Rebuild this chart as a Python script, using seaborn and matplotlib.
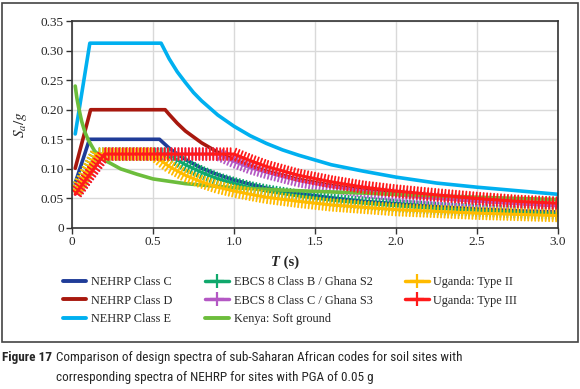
import matplotlib
matplotlib.use("Agg")
import matplotlib.pyplot as plt
import matplotlib.patheffects as pe
from matplotlib.lines import Line2D
from matplotlib.patches import Rectangle
import pandas as pd
import seaborn as sns

# period (s) and Sa/g
t_nehrp_c = [0.02, 0.108, 0.54, 0.6, 0.65, 0.7, 0.8, 0.9, 1.0, 1.1, 1.2, 1.4, 1.6, 1.8, 2.0, 2.25, 2.5, 2.75, 3.0]
sa_nehrp_c = [0.076, 0.15, 0.15, 0.135, 0.125, 0.116, 0.101, 0.090, 0.081, 0.074, 0.0675, 0.058, 0.051, 0.045, 0.041, 0.036, 0.032, 0.029, 0.027]

t_nehrp_d = [0.02, 0.115, 0.575, 0.6, 0.65, 0.7, 0.8, 0.9, 1.0, 1.1, 1.2, 1.4, 1.6, 1.8, 2.0, 2.25, 2.5, 2.75, 3.0]
sa_nehrp_d = [0.101, 0.20, 0.20, 0.192, 0.177, 0.164, 0.144, 0.128, 0.115, 0.105, 0.096, 0.082, 0.072, 0.064, 0.058, 0.051, 0.046, 0.042, 0.038]

t_nehrp_e = [0.02, 0.11, 0.55, 0.6, 0.65, 0.7, 0.75, 0.8, 0.9, 1.0, 1.1, 1.2, 1.3, 1.4, 1.6, 1.8, 2.0, 2.25, 2.5, 2.75, 3.0]
sa_nehrp_e = [0.159, 0.3125, 0.3125, 0.286, 0.264, 0.246, 0.229, 0.215, 0.191, 0.172, 0.156, 0.143, 0.132, 0.123, 0.107, 0.096, 0.086, 0.076, 0.069, 0.063, 0.057]

t_ebcs_b = [0.02, 0.15, 0.6, 0.65, 0.7, 0.8, 0.9, 1.0, 1.1, 1.2, 1.4, 1.6, 1.8, 2.0, 2.25, 2.5, 2.75, 3.0]
sa_ebcs_b = [0.06, 0.125, 0.125, 0.115, 0.107, 0.094, 0.083, 0.075, 0.068, 0.0625, 0.054, 0.047, 0.042, 0.0375, 0.033, 0.030, 0.027, 0.025]

t_ebcs_c = [0.02, 0.2, 0.9, 1.0, 1.1, 1.2, 1.4, 1.6, 1.8, 2.0, 2.25, 2.5, 2.75, 3.0]
sa_ebcs_c = [0.057, 0.125, 0.125, 0.1125, 0.102, 0.094, 0.080, 0.070, 0.0625, 0.056, 0.050, 0.045, 0.041, 0.0375]

t_kenya = [0.02, 0.03, 0.04, 0.06, 0.08, 0.1, 0.14, 0.2, 0.3, 0.4, 0.5, 0.7, 1.0, 1.3, 1.6, 2.0, 2.5, 3.0]
sa_kenya = [0.24, 0.22, 0.205, 0.18, 0.162, 0.149, 0.13, 0.115, 0.100, 0.091, 0.083, 0.075, 0.068, 0.064, 0.061, 0.057, 0.052, 0.048]

t_uganda_2 = [0.02, 0.15, 0.5, 0.55, 0.6, 0.7, 0.8, 0.9, 1.0, 1.1, 1.2, 1.4, 1.6, 1.8, 2.0, 2.25, 2.5, 2.75, 3.0]
sa_uganda_2 = [0.06, 0.125, 0.125, 0.114, 0.104, 0.089, 0.078, 0.069, 0.0625, 0.057, 0.052, 0.045, 0.039, 0.035, 0.031, 0.028, 0.025, 0.023, 0.021]

t_uganda_3 = [0.02, 0.2, 1.0, 1.1, 1.2, 1.4, 1.6, 1.8, 2.0, 2.25, 2.5, 2.75, 3.0]
sa_uganda_3 = [0.057, 0.125, 0.125, 0.114, 0.104, 0.089, 0.078, 0.069, 0.0625, 0.056, 0.050, 0.045, 0.042]

labels = ["NEHRP Class C", "NEHRP Class D", "NEHRP Class E",
          "EBCS 8 Class B / Ghana S2", "EBCS 8 Class C / Ghana S3", "Kenya: Soft ground",
          "Uganda: Type II", "Uganda: Type III"]
colors = ["#1f3c98", "#a8180e", "#00b0f0", "#10a86c", "#b458c4", "#6cbd3c", "#ffbb00", "#ff1a1a"]
with_markers = [False, False, False, True, True, False, True, True]

x_ticks = [0, 0.5, 1.0, 1.5, 2.0, 2.5, 3.0]
x_ticklabels = ["0", "0.5", "1.0", "1.5", "2.0", "2.5", "3.0"]
y_ticks = [0, 0.05, 0.10, 0.15, 0.20, 0.25, 0.30, 0.35]
y_ticklabels = ["0", "0.05", "0.10", "0.15", "0.20", "0.25", "0.30", "0.35"]

series = [(t_nehrp_c, sa_nehrp_c), (t_nehrp_d, sa_nehrp_d), (t_nehrp_e, sa_nehrp_e),
          (t_ebcs_b, sa_ebcs_b), (t_ebcs_c, sa_ebcs_c), (t_kenya, sa_kenya),
          (t_uganda_2, sa_uganda_2), (t_uganda_3, sa_uganda_3)]
rows = []
for lab, (tt, ss) in zip(labels, series):
    for t, s in zip(tt, ss):
        rows.append({"T": t, "Sa": s, "code": lab})
df = pd.DataFrame(rows)

sns.set_style("whitegrid", {"grid.color": "#d9d9d9", "axes.edgecolor": "#333333"})
plt.rcParams["font.family"] = ["Liberation Serif", "DejaVu Serif"]
plt.rcParams["mathtext.fontset"] = "stix"

fig = plt.figure(figsize=(5.8, 3.89), dpi=100)
ax = fig.add_axes([72 / 580, 1 - 228 / 389, 486 / 580, 207 / 389])

sns.lineplot(data=df, x="T", y="Sa", hue="code", hue_order=labels, palette=colors,
             estimator=None, sort=False, linewidth=2.6, legend=False, ax=ax)

for line, mk in zip(ax.lines, with_markers):
    line.set_solid_joinstyle("round")
    if mk:
        line.set_linewidth(2.2)
        line.set_path_effects([
            pe.Normal(),
            pe.TickedStroke(spacing=2.5, angle=90, length=1.7, linewidth=1.3),
            pe.TickedStroke(spacing=2.5, angle=-90, length=1.7, linewidth=1.3),
        ])

ax.set_xlim(0, 3.0)
ax.set_ylim(0, 0.35)
ax.set_xticks(x_ticks)
ax.set_xticklabels(x_ticklabels)
ax.set_yticks(y_ticks)
ax.set_yticklabels(y_ticklabels)
ax.tick_params(axis="both", labelsize=9.5, length=4, width=1, color="#333333",
               direction="out", bottom=True, left=True, pad=2)
ax.grid(True, color="#d9d9d9", linewidth=1)
for sp in ax.spines.values():
    sp.set_linewidth(1.2)
    sp.set_color("#333333")

ax.set_xlabel("")
ax.set_ylabel("$S_a/g$", fontsize=11, labelpad=8)
ax.text(0.428, -0.165, "T", transform=ax.transAxes, ha="right", va="center",
        fontsize=10.5, fontweight="bold", fontstyle="italic")
ax.text(0.428, -0.165, " (s)", transform=ax.transAxes, ha="left", va="center",
        fontsize=10.5, fontweight="bold")

handles = []
for c, mk in zip(colors, with_markers):
    if mk:
        handles.append(Line2D([], [], color=c, linewidth=2.5, marker="+",
                              markersize=10, markeredgewidth=1.6))
    else:
        handles.append(Line2D([], [], color=c, linewidth=2.8))
fig.legend(handles, labels, ncol=3, loc="upper left", frameon=False,
           bbox_to_anchor=(63 / 580, 1 - 276 / 389), bbox_transform=fig.transFigure,
           fontsize=8.8, handlelength=1.9, handletextpad=0.4, columnspacing=2.7,
           labelspacing=0.55, borderpad=0, borderaxespad=0)

fig.add_artist(Rectangle((2 / 580, 1 - 342 / 389), 576 / 580, 339 / 389,
                         transform=fig.transFigure, fill=False,
                         edgecolor="#444444", linewidth=1.2))

# caption: narrow sans, sized so the first line spans like the reference
cap_font = ["Roboto Condensed", "Roboto", "DejaVu Sans"]
cap_size = 9.5
head = fig.text(2 / 580, 1 - 357 / 389, "Figure 17", family=cap_font, fontweight="bold",
                fontsize=cap_size, va="center", ha="left")
line1 = fig.text(56 / 580, 1 - 357 / 389,
                 "Comparison of design spectra of sub-Saharan African codes for soil sites with",
                 family=cap_font, fontsize=cap_size, va="center", ha="left")
line2 = fig.text(56 / 580, 1 - 378 / 389,
                 "corresponding spectra of NEHRP for sites with PGA of 0.05 g",
                 family=cap_font, fontsize=cap_size, va="center", ha="left")
fig.canvas.draw()
rend = fig.canvas.get_renderer()
scale = 409 / line1.get_window_extent(rend).width
for t in (head, line1, line2):
    t.set_fontsize(cap_size * scale)
fig.canvas.draw()
x_start = head.get_window_extent(rend).x1 + 4
line1.set_x(x_start / 580)
line2.set_x(x_start / 580)

fig.savefig("out.png", dpi=100)
